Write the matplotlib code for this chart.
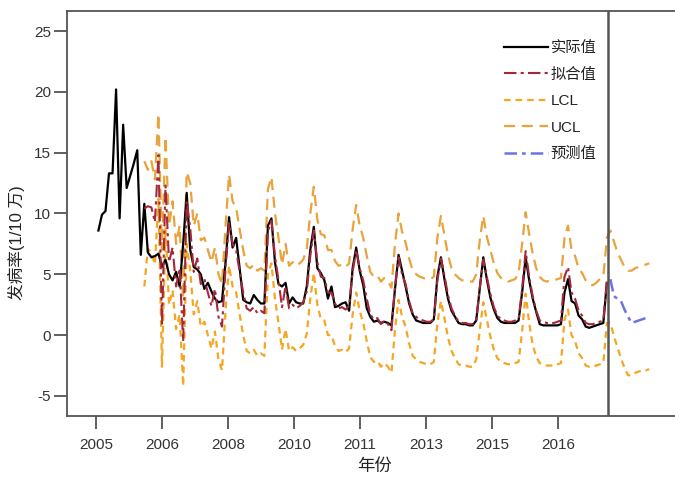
import matplotlib
matplotlib.use("Agg")
import matplotlib.pyplot as plt
import numpy as np

plt.rcParams['font.family'] = ['Liberation Sans', 'Noto Sans CJK SC', 'DejaVu Sans']

# ---- data (monthly index, 0 = Jan 2005) ----
actual = [
    8.6, 9.9, 10.2, 13.3, 13.3, 20.2, 9.6, 17.3, 12.1, 13.1, 14.1, 15.2,
    6.6, 10.8, 6.8, 6.4, 6.5, 6.7, 5.6, 6.2, 5.0, 4.5, 5.2, 4.0,
    7.5, 11.7, 7.0, 5.6, 5.4, 5.0, 3.8, 4.3, 3.6, 3.0, 2.7, 2.8,
    6.0, 9.7, 7.2, 8.0, 5.5, 2.9, 2.7, 2.6, 3.3, 2.9, 2.6, 2.6,
    9.0, 9.6, 6.0, 4.2, 4.0, 4.3, 2.6, 3.1, 2.7, 2.6, 2.6, 4.0,
    7.0, 8.9, 5.5, 5.1, 4.5, 3.0, 4.0, 2.3, 2.4, 2.6, 2.7, 2.0,
    5.5, 7.2, 5.3, 4.1, 2.2, 1.5, 1.1, 1.2, 1.0, 1.1, 1.0, 0.8,
    3.8, 6.6, 5.3, 4.0, 2.6, 1.7, 1.2, 1.1, 1.0, 1.0, 1.0, 1.3,
    4.8, 6.4, 4.6, 3.0, 2.0, 1.5, 1.0, 0.9, 0.9, 0.8, 0.8, 1.2,
    3.8, 6.4, 4.6, 3.1, 2.1, 1.4, 1.1, 1.0, 1.0, 1.0, 1.0, 1.2,
    3.5, 6.4, 4.5, 3.0, 1.9, 0.9, 0.8, 0.8, 0.8, 0.8, 0.8, 0.9,
    3.5, 4.6, 2.8, 2.6, 1.6, 1.3, 0.7, 0.6, 0.7, 0.8, 0.9, 1.0,
    4.3,
]
fit_start = 13
fitted = [
    10.4, 10.6, 10.5, 9.3, 14.8, 0.8, 12.3, 6.0, 7.2, 4.0, 5.5,
    -0.5, 11.0, 8.8, 5.2, 6.3, 4.2, 4.6, 3.5, 2.4, 3.8, 1.5, 0.7,
    5.5, 9.2, 7.5, 7.0, 5.2, 3.5, 2.2, 2.0, 2.3, 1.8, 2.0, 1.8,
    8.5, 9.4, 6.5, 4.5, 2.3, 4.0, 2.2, 2.5, 2.2, 2.4, 2.7, 3.6,
    6.5, 8.6, 6.0, 4.8, 4.7, 3.5, 3.5, 2.6, 2.2, 2.3, 2.1, 2.4,
    5.2, 7.0, 5.5, 4.5, 3.0, 1.7, 1.3, 1.4, 0.9, 1.2, 0.9, 0.4,
    4.0, 6.4, 5.0, 4.2, 2.8, 1.8, 1.5, 1.3, 1.2, 1.1, 1.1, 1.3,
    4.5, 6.3, 4.9, 3.3, 2.2, 1.6, 1.1, 1.0, 1.0, 0.9, 0.9, 1.2,
    3.9, 6.2, 4.8, 3.4, 2.3, 1.6, 1.3, 1.2, 1.1, 1.1, 1.2, 1.3,
    3.8, 6.9, 4.8, 3.2, 2.0, 1.2, 1.1, 1.0, 1.0, 1.0, 1.1, 1.2,
    4.8, 5.6, 3.5, 3.0, 2.0, 1.6, 1.0, 0.9, 0.9, 1.0, 1.1, 1.2,
    4.5,
]
ucl = [
    14.3, 13.6, 14.3, 12.8, 18.2, 7.0, 16.3, 9.0, 11.0, 7.5, 9.0,
    3.0, 13.4, 12.5, 9.0, 10.0, 7.8, 8.0, 7.0, 6.0, 7.2, 5.0, 4.2,
    9.0, 13.2, 11.0, 10.5, 8.7, 7.0, 5.7, 5.5, 5.8, 5.3, 5.5, 5.3,
    12.0, 13.0, 10.0, 8.0, 5.8, 7.5, 5.7, 6.0, 5.7, 5.9, 6.2, 7.1,
    10.0, 12.2, 9.5, 8.3, 8.2, 7.0, 7.0, 6.1, 5.7, 5.8, 5.6, 5.9,
    8.7, 10.7, 9.0, 8.0, 6.5, 5.2, 4.8, 4.9, 4.4, 4.7, 4.4, 3.9,
    7.5, 10.0, 8.5, 7.6, 6.3, 5.3, 5.0, 4.8, 4.7, 4.6, 4.6, 4.8,
    8.0, 9.8, 8.2, 6.6, 5.5, 5.0, 4.7, 4.5, 4.5, 4.4, 4.4, 5.0,
    7.8, 9.8, 8.1, 7.0, 5.9, 5.1, 4.7, 4.5, 4.4, 4.5, 4.6, 5.1,
    7.5, 10.1, 8.3, 6.7, 5.5, 4.8, 4.5, 4.4, 4.5, 4.5, 4.6, 4.7,
    8.0, 9.0, 7.0, 6.5, 5.5, 5.1, 4.5, 4.2, 4.1, 4.3, 4.6, 4.8,
    8.0,
    8.6, 7.7, 6.8, 6.2, 5.6, 5.3, 5.3, 5.5, 5.6, 5.7, 5.8, 5.9,
]
lcl = [
    4.0, 7.1, 6.8, 5.8, 11.2, -2.6, 8.8, 2.5, 3.7, 0.5, 1.7,
    -4.2, 7.5, 5.3, 1.7, 2.8, 0.7, 1.1, 0.0, -1.1, 0.3, -2.0, -2.9,
    2.0, 5.7, 4.0, 3.5, 1.7, 0.0, -1.3, -1.5, -1.2, -1.7, -1.5, -1.7,
    5.0, 5.9, 3.0, 1.0, -1.2, 0.5, -1.3, -1.0, -1.3, -1.1, -0.8, 0.1,
    3.0, 5.1, 2.5, 1.3, 1.2, 0.0, 0.0, -0.9, -1.3, -1.2, -1.4, -1.1,
    1.7, 3.5, 2.0, 1.0, -0.5, -1.8, -2.2, -2.1, -2.6, -2.3, -2.6, -3.1,
    0.5, 2.9, 1.5, 0.7, -0.7, -1.7, -2.0, -2.2, -2.3, -2.4, -2.4, -2.2,
    1.0, 2.8, 1.4, -0.2, -1.3, -1.9, -2.4, -2.5, -2.5, -2.6, -2.6, -2.0,
    0.4, 2.7, 1.3, -0.1, -1.2, -1.9, -2.2, -2.3, -2.4, -2.4, -2.3, -2.2,
    0.3, 3.4, 1.0, -0.8, -1.8, -2.3, -2.4, -2.5, -2.5, -2.5, -2.4, -2.3,
    1.3, 2.1, 0.0, -0.5, -1.5, -1.9, -2.5, -2.6, -2.6, -2.5, -2.4, -2.3,
    1.0,
    1.0, -0.1, -1.0, -1.9, -2.7, -3.3, -3.3, -3.1, -3.0, -2.9, -2.9, -2.8,
]
pred_start = 145
predicted = [4.6, 3.2, 3.0, 2.8, 2.1, 1.5, 1.0, 1.1, 1.2, 1.3, 1.4, 1.5]
forecast_origin = 144.4

tick_labels = ['2005', '2006', '2008', '2010', '2011', '2013', '2015', '2016']
tick_pos = [-0.7, 18.0, 36.7, 55.4, 74.1, 92.8, 111.5, 130.2]

# ---- figure ----
W, H = 675, 482
fig = plt.figure(figsize=(W / 100, H / 100), dpi=100)
ax = fig.add_axes([67 / W, 66 / H, (W - 67) / W, (471 - 66) / H])

t_act = np.arange(len(actual))
t_fit = np.arange(fit_start, fit_start + len(fitted))
t_cl = np.arange(fit_start, fit_start + len(ucl))
t_pred = np.arange(pred_start, pred_start + len(predicted))

lcl_color = '#f5a623'
ucl_color = '#e8a33c'
ax.plot(t_cl, lcl, color=lcl_color, lw=1.6, dashes=(3, 2.2), label='LCL', zorder=2)
ax.plot(t_cl, ucl, color=ucl_color, lw=1.6, dashes=(5, 3), label='UCL', zorder=2)
ax.plot(t_act, actual, color='black', lw=1.6, label='实际值', zorder=3)
ax.plot(t_fit, fitted, color='#a3283a', lw=1.5, dashes=(6, 2, 1.5, 2), label='拟合值', zorder=4)
ax.plot(t_pred, predicted, color='#6b74e6', lw=1.8, dashes=(5, 2, 1.5, 2), label='预测值', zorder=4)
ax.axvline(forecast_origin, color='#555555', lw=1.8, zorder=5)

ax.set_xlim(-8.9, 163.3)
ax.set_ylim(-6.65, 26.65)
ax.set_yticks([-5, 0, 5, 10, 15, 20, 25])
ax.set_yticklabels(['-5', '0', '5', '10', '15', '20', '25'])
ax.set_xticks(tick_pos)
ax.set_xticklabels(tick_labels)

for s in ['left', 'bottom', 'top']:
    ax.spines[s].set_color('#555555')
    ax.spines[s].set_linewidth(1.3)
ax.spines['right'].set_visible(False)
ax.tick_params(axis='both', direction='out', length=9.5, width=1.2, colors='#444444',
               labelsize=11, labelcolor='#333333')
ax.tick_params(axis='y', pad=2)
ax.tick_params(axis='x', pad=6)

ax.set_xlabel('年份', fontsize=12.5, color='#222222')
ax.xaxis.set_label_coords((375 - 67) / (W - 67), -(458 - 416) / 405)
ax.set_ylabel('发病率(1/10 万)', fontsize=12, color='#222222')
ax.yaxis.set_label_coords((25 - 67) / (W - 67), (416 - 243) / 405)

handles, labels = ax.get_legend_handles_labels()
order = ['实际值', '拟合值', 'LCL', 'UCL', '预测值']
hmap = dict(zip(labels, handles))
leg = fig.legend([hmap[k] for k in order], order, loc='upper left',
                 bbox_to_anchor=(504 / W, (H - 41) / H), bbox_transform=fig.transFigure,
                 frameon=False, fontsize=11, handlelength=2.9, handletextpad=0.15,
                 labelspacing=0.82, borderpad=0, borderaxespad=0)
for txt in leg.get_texts():
    txt.set_color('#222222')

fig.savefig('out.png', dpi=100)
